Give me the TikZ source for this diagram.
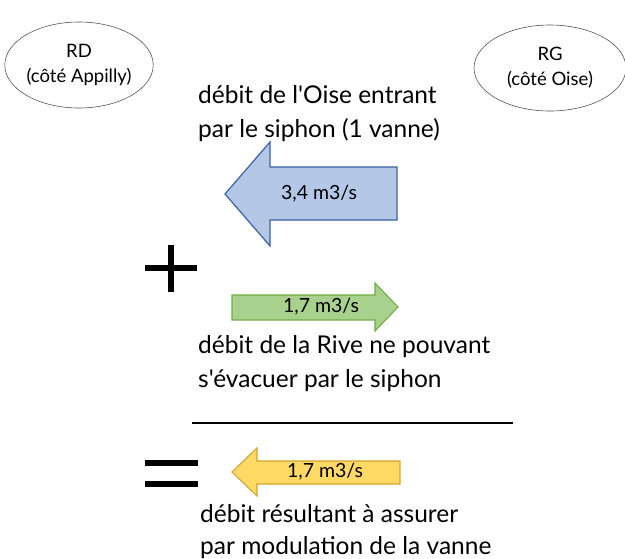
\documentclass[tikz,border=0pt]{standalone}
\usepackage{fontspec}
\setmainfont{Lato}[Ligatures=TeXOff]
\usetikzlibrary{shapes.geometric}
\definecolor{bluefill}{HTML}{B4C7E7}
\definecolor{blueline}{HTML}{3A62A8}
\definecolor{greenfill}{HTML}{A9D18E}
\definecolor{greenline}{HTML}{70AD47}
\definecolor{yellowfill}{HTML}{FFD966}
\definecolor{yellowline}{HTML}{D4A52A}
\definecolor{ellline}{HTML}{555555}
\begin{document}
\begin{tikzpicture}[x=1pt,y=-1pt,
  bank/.style={ellipse,draw=ellline,line width=0.6pt,inner sep=0pt,align=center,font=\fontsize{18.5}{25}\selectfont},
  bigtext/.style={anchor=base west,inner sep=0pt,font=\fontsize{24.5}{30}\selectfont},
  arrowtext/.style={inner sep=0pt,font=\fontsize{19.5}{22}\selectfont},
  symb/.style={line width=6.5pt}
]
\useasboundingbox (0,0) rectangle (625,558);
% banks
\node[bank,minimum width=138pt,minimum height=86pt] (rd) at (79,65) {RD\\(côté Appilly)};
\node[bank,minimum width=152pt,minimum height=86pt] (rg) at (550,68) {RG\\(côté Oise)};
% texts
\node[bigtext] (t1a) at (198,103) {débit de l'Oise entrant};
\node[bigtext] (t1b) at (198,137) {par le siphon (1 vanne)};
% blue arrow
\draw[fill=bluefill,draw=blueline,line width=1.2pt,line join=miter]
  (225,194) -- (270,142) -- (270,167) -- (397,167) -- (397,220) -- (270,220) -- (270,246) -- cycle;
\node[arrowtext] (v1) at (319,194) {3,4 m3/s};
% plus
\coordinate (pl) at (145,268); \coordinate (pr) at (197,268);
\coordinate (pt) at (171,245); \coordinate (pb) at (171,292);
\draw[symb] (pl) -- (pr);
\draw[symb] (pt) -- (pb);
% green arrow
\draw[fill=greenfill,draw=greenline,line width=1.1pt,line join=miter]
  (232,295) -- (375,295) -- (375,283) -- (398,307) -- (375,331) -- (375,320) -- (232,320) -- cycle;
\node[arrowtext] (v2) at (321,307) {1,7 m3/s};
\node[bigtext] (t2a) at (198,353) {débit de la Rive ne pouvant};
\node[bigtext] (t2b) at (198,387) {s'évacuer par le siphon};
% line
\coordinate (la) at (192,423); \coordinate (lb) at (513,423);
\draw[line width=1.6pt] (la) -- (lb);
% equals
\coordinate (e1a) at (145,463); \coordinate (e1b) at (198,463);
\coordinate (e2a) at (145,484); \coordinate (e2b) at (198,484);
\draw[symb] (e1a) -- (e1b);
\draw[symb] (e2a) -- (e2b);
% yellow arrow
\draw[fill=yellowfill,draw=yellowline,line width=1.1pt,line join=miter]
  (232,472) -- (257,448) -- (257,461) -- (400,461) -- (400,484) -- (257,484) -- (257,496) -- cycle;
\node[arrowtext] (v3) at (325,472) {1,7 m3/s};
\node[bigtext] (t3a) at (200,522) {débit résultant à assurer};
\node[bigtext] (t3b) at (200,554) {par modulation de la vanne};
\end{tikzpicture}
\end{document}
